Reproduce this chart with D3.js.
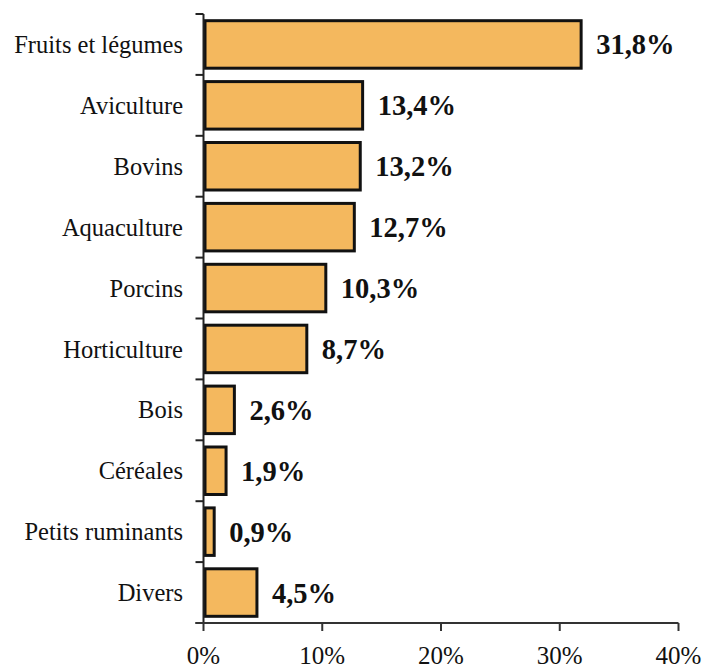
<!DOCTYPE html>
<html>
<head>
  <title>Répartition par filière</title>
</head>
<body>
  <svg id="svg" width="706" height="669"></svg>

  <script src="https://d3js.org/d3.v7.min.js"></script>
  <script>
    const categories = ['Fruits et légumes', 'Aviculture', 'Bovins', 'Aquaculture', 'Porcins',
      'Horticulture', 'Bois', 'Céréales', 'Petits ruminants', 'Divers']
    const values = [31.8, 13.4, 13.2, 12.7, 10.3, 8.7, 2.6, 1.9, 0.9, 4.5]
    const xTicks = [0, 10, 20, 30, 40]

    const data = categories.map((c, i) => ({ name: c, value: values[i] }))

    const svg = d3.select('#svg')
    const font = '"Liberation Serif", "Times New Roman", serif'

    const xscale = d3.scaleLinear()
      .domain([0, 40])
      .range([203.5, 678.5])

    const yscale = d3.scaleBand()
      .domain(categories)
      .range([14, 623])
      .paddingInner(0.22)
      .paddingOuter(0.11)

    // bars
    svg.selectAll('rect.bar')
      .data(data)
      .enter()
      .append('rect')
      .attr('class', 'bar')
      .attr('x', xscale(0) + 1.5)
      .attr('y', d => yscale(d.name))
      .attr('width', d => xscale(d.value) - xscale(0) - 1.5)
      .attr('height', yscale.bandwidth())
      .attr('fill', '#F4B85E')
      .attr('stroke', '#111')
      .attr('stroke-width', 3)

    // value labels
    svg.selectAll('text.val')
      .data(data)
      .enter()
      .append('text')
      .attr('class', 'val')
      .attr('x', d => xscale(d.value) + 15)
      .attr('y', d => yscale(d.name) + yscale.bandwidth() / 2)
      .attr('dy', '0.35em')
      .attr('font-family', font)
      .attr('font-weight', 'bold')
      .attr('font-size', 28.5)
      .attr('fill', '#111')
      .text(d => d.value.toFixed(1).replace('.', ',') + '%')

    // category labels
    svg.selectAll('text.cat')
      .data(data)
      .enter()
      .append('text')
      .attr('class', 'cat')
      .attr('x', 183)
      .attr('y', d => yscale(d.name) + yscale.bandwidth() / 2)
      .attr('dy', '0.35em')
      .attr('text-anchor', 'end')
      .attr('font-family', font)
      .attr('font-size', 24.5)
      .attr('fill', '#111')
      .text(d => d.name)

    // y axis line with ticks at band boundaries
    const bounds = d3.range(categories.length + 1).map(i => 14 + i * (609 / categories.length))
    svg.append('line')
      .attr('x1', xscale(0)).attr('x2', xscale(0))
      .attr('y1', 14).attr('y2', 623)
      .attr('stroke', '#222').attr('stroke-width', 2)
    svg.selectAll('line.ytick')
      .data(bounds)
      .enter()
      .append('line')
      .attr('class', 'ytick')
      .attr('x1', xscale(0) - 8).attr('x2', xscale(0))
      .attr('y1', d => d).attr('y2', d => d)
      .attr('stroke', '#222').attr('stroke-width', 2)

    // x axis
    svg.append('line')
      .attr('x1', xscale(0) - 8).attr('x2', xscale(40))
      .attr('y1', 623).attr('y2', 623)
      .attr('stroke', '#333').attr('stroke-width', 2)
    svg.selectAll('line.xtick')
      .data(xTicks)
      .enter()
      .append('line')
      .attr('class', 'xtick')
      .attr('x1', d => xscale(d)).attr('x2', d => xscale(d))
      .attr('y1', 623).attr('y2', 631)
      .attr('stroke', '#333').attr('stroke-width', 2)
    svg.selectAll('text.xlab')
      .data(xTicks)
      .enter()
      .append('text')
      .attr('class', 'xlab')
      .attr('x', d => xscale(d))
      .attr('y', 664)
      .attr('text-anchor', 'middle')
      .attr('font-family', font)
      .attr('font-size', 25)
      .attr('fill', '#111')
      .text(d => d + '%')
  </script>
</body>

<style>
  body, html {
    margin: 0;
    padding: 0;
    background: #fff;
  }
  svg { display: block; }
</style>
</html>
